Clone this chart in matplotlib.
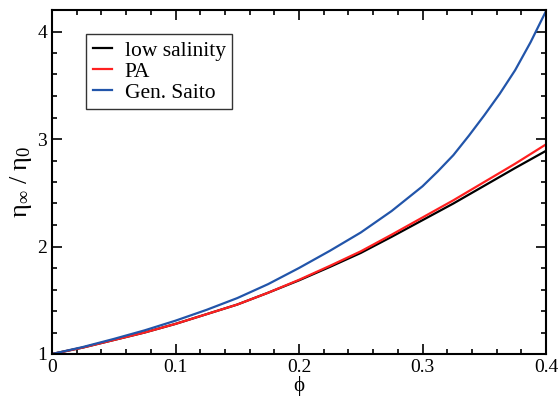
import numpy as np
import matplotlib
matplotlib.use('Agg')
import matplotlib.pyplot as plt
from matplotlib.ticker import MultipleLocator

plt.rcParams['font.family'] = ['Liberation Serif', 'DejaVu Serif']
plt.rcParams['mathtext.fontset'] = 'custom'
plt.rcParams['mathtext.rm'] = 'Liberation Serif'
plt.rcParams['mathtext.it'] = 'Liberation Serif:italic'

# Données =====================================================================
phi = [0.0, 0.025, 0.05, 0.075, 0.1, 0.125, 0.15, 0.175, 0.2,
       0.225, 0.25, 0.275, 0.3, 0.325, 0.35, 0.375, 0.4]
low_salinity = [1.0, 1.06, 1.13, 1.20, 1.28, 1.37, 1.46, 1.57, 1.685,
                1.81, 1.94, 2.09, 2.245, 2.40, 2.565, 2.73, 2.89]
pa = [1.0, 1.06, 1.13, 1.20, 1.28, 1.37, 1.46, 1.57, 1.69,
      1.82, 1.955, 2.11, 2.27, 2.43, 2.60, 2.77, 2.95]

phi_saito = [0.0, 0.025, 0.05, 0.075, 0.1, 0.125, 0.15, 0.175, 0.2,
             0.225, 0.25, 0.275, 0.3, 0.3125, 0.325, 0.3375, 0.35,
             0.3625, 0.375, 0.3875, 0.4]
gen_saito = [1.0, 1.065, 1.14, 1.22, 1.31, 1.41, 1.52, 1.65, 1.80,
             1.96, 2.13, 2.33, 2.56, 2.70, 2.85, 3.03, 3.22,
             3.42, 3.64, 3.90, 4.19]

labels = ['low salinity', 'PA', 'Gen. Saito']
colors = ['black', '#ff2020', '#2255aa']
xticks = [0, 0.1, 0.2, 0.3, 0.4]
xticklabels = ['0', '0.1', '0.2', '0.3', '0.4']
yticks = [1, 2, 3, 4]

# Figure =======================================================================
fig = plt.figure(figsize=(5.58, 3.97), dpi=100)
ax = fig.add_axes([52/558, 1-354/397, 494/558, 344/397])

series = [(phi, low_salinity), (phi, pa), (phi_saito, gen_saito)]
for (xs, ys), lab, c in zip(series, labels, colors):
    ax.plot(xs, ys, color=c, lw=1.6, label=lab, solid_joinstyle='round')

ax.set_xlim(0, 0.4)
ax.set_ylim(1, 4.2)
ax.set_xticks(xticks)
ax.set_xticklabels(xticklabels)
ax.set_yticks(yticks)
ax.set_yticklabels([str(v) for v in yticks])
ax.xaxis.set_minor_locator(MultipleLocator(0.02))
ax.yaxis.set_minor_locator(MultipleLocator(0.2))

ax.tick_params(which='both', direction='in', top=True, right=True,
               labelsize=14, width=1.2)
ax.tick_params(which='major', length=7)
ax.tick_params(which='minor', length=3.6)
for s in ax.spines.values():
    s.set_linewidth(1.5)

ax.set_xlabel('ϕ', fontsize=15, labelpad=0)
ax.set_ylabel('$\\mathrm{η}_{\\infty}\\ /\\ \\mathrm{η}_{0}$', fontsize=19, labelpad=2)

leg = ax.legend(loc='upper left', bbox_to_anchor=(0.069, 0.93), fontsize=15.5,
                frameon=True, fancybox=False, borderaxespad=0,
                handlelength=0.9, handletextpad=0.6, borderpad=0.3,
                labelspacing=0.05)
leg.get_frame().set_edgecolor('black')
leg.get_frame().set_linewidth(1.0)

fig.savefig('out.png', dpi=100)
